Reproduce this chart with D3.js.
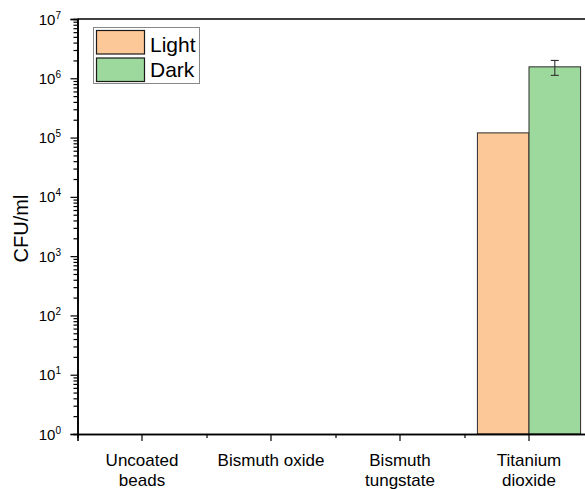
<!DOCTYPE html>
<html>
<head>
<meta charset="utf-8">
<script src="https://cdn.jsdelivr.net/npm/d3@7"></script>
<style>
  html, body { margin: 0; padding: 0; background: #fff; }
  svg { display: block; font-family: Arial, "Liberation Sans", sans-serif; }
</style>
</head>
<body>
<svg id="chart" width="585" height="489"></svg>
<script>
// Category labels (line breaks marked with \n)
const categories = ["Uncoated\nbeads", "Bismuth oxide", "Bismuth\ntungstate", "Titanium\ndioxide"];
const seriesNames = ["Light", "Dark"];
const lightValues = [0, 0, 0, 1.2e5];
const darkValues = [0, 0, 0, 1.56e6];
const lightErrors = [0, 0, 0, 0];
const darkErrors = [0, 0, 0, 0.44e6];
const yTickExponents = [0, 1, 2, 3, 4, 5, 6, 7];

const seriesColors = ["#FDC897", "#9DD89D"];

const svg = d3.select("#chart");

// Plot frame (right side runs past the visible area)
const plotLeft = 77.5, plotRight = 593.5, plotTop = 19, plotBottom = 434;

const x = d3.scaleBand().domain(categories).range([plotLeft, plotRight]).paddingInner(0).paddingOuter(0);
const xSub = d3.scaleBand().domain(seriesNames).range([0, x.bandwidth()]).paddingInner(0).paddingOuter(0.25);
const y = d3.scaleLog().domain([1, 1e7]).range([plotBottom, plotTop]);

const series = [
  { name: "Light", values: lightValues, errors: lightErrors, color: seriesColors[0] },
  { name: "Dark", values: darkValues, errors: darkErrors, color: seriesColors[1] }
];

// Bars
const barData = [];
series.forEach(s => {
  categories.forEach((c, i) => {
    if (s.values[i] > 0) barData.push({ cat: c, name: s.name, v: s.values[i], e: s.errors[i], color: s.color });
  });
});

const plot = svg.append("g");
plot.selectAll("rect.bar").data(barData).enter().append("rect")
  .attr("class", "bar")
  .attr("x", d => x(d.cat) + xSub(d.name))
  .attr("width", xSub.bandwidth())
  .attr("y", d => y(d.v))
  .attr("height", d => y(1) - y(d.v))
  .attr("fill", d => d.color)
  .attr("stroke", "#2a2a2a")
  .attr("stroke-width", 1);

// Error bars
const errData = barData.filter(d => d.e > 0);
const eg = plot.selectAll("g.err").data(errData).enter().append("g")
  .attr("stroke", "#333").attr("stroke-width", 1.1).attr("fill", "none");
const cx = d => x(d.cat) + xSub(d.name) + xSub.bandwidth() / 2;
eg.append("line")
  .attr("x1", cx).attr("x2", cx)
  .attr("y1", d => y(d.v + d.e)).attr("y2", d => y(d.v - d.e));
[1, -1].forEach(sign => {
  eg.append("line")
    .attr("x1", d => cx(d) - 4).attr("x2", d => cx(d) + 4)
    .attr("y1", d => y(d.v + sign * d.e)).attr("y2", d => y(d.v + sign * d.e));
});

// Top frame line
svg.append("line").attr("x1", plotLeft).attr("x2", plotRight).attr("y1", plotTop).attr("y2", plotTop)
  .attr("stroke", "#000").attr("stroke-width", 1.6);

// Y axis: major ticks
const majorVals = yTickExponents.map(k => Math.pow(10, k));
const yAxis = svg.append("g").attr("transform", `translate(${plotLeft},0)`)
  .call(d3.axisLeft(y).tickValues(majorVals).tickSize(7).tickFormat(""));
// Y axis: minor ticks
const minorVals = [];
yTickExponents.slice(0, -1).forEach(k => { for (let m = 2; m <= 9; m++) minorVals.push(m * Math.pow(10, k)); });
const yMinor = svg.append("g").attr("transform", `translate(${plotLeft},0)`)
  .call(d3.axisLeft(y).tickValues(minorVals).tickSize(4).tickFormat(""));
[yAxis, yMinor].forEach(g => {
  g.select(".domain").attr("stroke", "#000").attr("stroke-width", 1.6);
  g.selectAll(".tick line").attr("stroke", "#000").attr("stroke-width", 1.2);
});

// Y tick labels 10^k
const yl = svg.append("g").selectAll("text").data(yTickExponents).enter().append("text")
  .attr("x", 61).attr("y", k => y(Math.pow(10, k)) + 5.5)
  .attr("text-anchor", "end").attr("font-size", 15).attr("fill", "#000");
yl.append("tspan").text("10");
yl.append("tspan").attr("font-size", 10).attr("dy", -6).text(k => k);

// Y axis title
svg.append("text").attr("transform", `translate(28,${(plotTop + plotBottom) / 2 + 2}) rotate(-90)`)
  .attr("text-anchor", "middle").attr("font-size", 20).attr("fill", "#000").text("CFU/ml");

// X axis: major ticks at category centres, minor at boundaries
const xAxis = svg.append("g").attr("transform", `translate(0,${plotBottom})`)
  .call(d3.axisBottom(x).tickSize(7).tickFormat(""));
const boundaries = categories.slice(1).map(c => x(c));
const xMinor = svg.append("g").attr("transform", `translate(0,${plotBottom})`)
  .call(d3.axisBottom(d3.scaleLinear().domain([plotLeft, plotRight]).range([plotLeft, plotRight]))
    .tickValues(boundaries).tickSize(4).tickFormat(""));
[xAxis, xMinor].forEach(g => {
  g.select(".domain").attr("stroke", "#000").attr("stroke-width", 1.6);
  g.selectAll(".tick line").attr("stroke", "#000").attr("stroke-width", 1.2);
});

// X tick labels (multi-line)
const xl = svg.append("g").selectAll("text").data(categories).enter().append("text")
  .attr("x", c => x(c) + x.bandwidth() / 2)
  .attr("y", 466)
  .attr("text-anchor", "middle").attr("font-size", 17).attr("fill", "#000");
xl.each(function (c) {
  const lines = c.split("\n");
  const t = d3.select(this);
  lines.forEach((ln, i) => {
    t.append("tspan").attr("x", x(c) + x.bandwidth() / 2).attr("dy", i === 0 ? 0 : 20).text(ln);
  });
});

// Legend
const lg = svg.append("g");
lg.append("rect").attr("x", 93.5).attr("y", 27.5).attr("width", 106).attr("height", 56)
  .attr("fill", "#fff").attr("stroke", "#888").attr("stroke-width", 1);
series.forEach((s, i) => {
  lg.append("rect").attr("x", 96.5).attr("y", 30.5 + i * 27.5).attr("width", 48).attr("height", 23.5)
    .attr("fill", s.color).attr("stroke", "#1a1a1a").attr("stroke-width", 1.2);
  lg.append("text").attr("x", 150).attr("y", 51.5 + i * 25.5)
    .attr("font-size", 21).attr("fill", "#000").text(s.name);
});
</script>
</body>
</html>
